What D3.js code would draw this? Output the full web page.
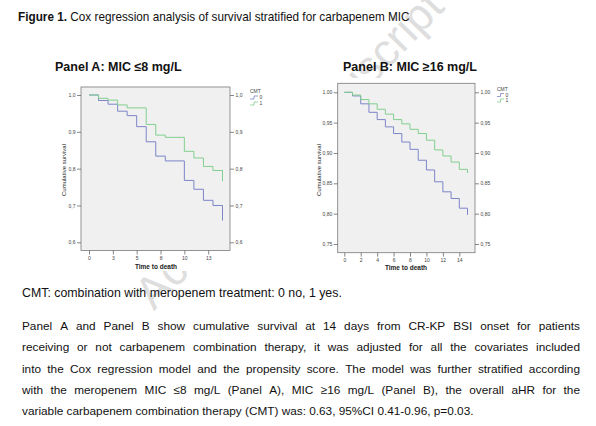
<!DOCTYPE html>
<html><head><meta charset="utf-8">
<script src="https://cdn.jsdelivr.net/npm/d3@7"></script>
<style>
body{margin:0;background:#fff}
svg{display:block}
text{font-family:"Liberation Sans",Arial,sans-serif}
</style>
</head><body>
<svg id="chart" width="596" height="426"></svg>
<script>
// ---------- DATA ----------
const seriesNames = ["0", "1"];            // CMT groups (0 = no, 1 = yes)
const seriesColors = ["#7d85c8", "#82cf8e"];

const panelA_days = [0,1,2,3,4,5,6,7,8,9,10,11,12,13,14];
const panelA_cmt0 = [1.0,0.985,0.975,0.956,0.944,0.914,0.873,0.834,0.821,0.821,0.768,0.744,0.714,0.700,0.659];
const panelA_cmt1 = [1.0,0.991,0.986,0.973,0.965,0.965,0.920,0.891,0.885,0.885,0.847,0.829,0.806,0.795,0.766];
const panelA_yTicks = [0.6,0.7,0.8,0.9,1.0];
const panelA_xTicks = [0,2.5,5,7.5,10,12.5];
const panelA_xTickLabels = ["0","3","5","8","10","13"];

const panelB_days = [0,1,2,3,4,5,6,7,8,9,10,11,12,13,14,15];
const panelB_cmt0 = [1.0,0.994,0.981,0.967,0.955,0.943,0.932,0.918,0.906,0.888,0.872,0.8525,0.836,0.825,0.809,0.798];
const panelB_cmt1 = [1.0,0.9955,0.988,0.981,0.972,0.964,0.955,0.948,0.939,0.932,0.921,0.905,0.895,0.885,0.873,0.867];
const panelB_yTicks = [0.75,0.80,0.85,0.90,0.95,1.00];
const panelB_xTicks = [0,2,4,6,8,10,12,14];
const panelB_xTickLabels = ["0","2","4","6","8","10","12","14"];

const titleBold = "Figure 1.";
const titleRest = " Cox regression analysis of survival stratified for carbapenem MIC";
const panelTitles = ["Panel A: MIC \u22648 mg/L", "Panel B: MIC \u226516 mg/L"];
const footnote = "CMT: combination with meropenem treatment: 0 no, 1 yes.";
const paragraph = [
  "Panel A and Panel B show cumulative survival at 14 days from CR-KP BSI onset for patients",
  "receiving or not carbapenem combination therapy, it was adjusted for all the covariates included",
  "into the Cox regression model and the propensity score. The model was further stratified according",
  "with the meropenem MIC \u22648 mg/L (Panel A), MIC \u226516 mg/L (Panel B), the overall aHR for the",
  "variable carbapenem combination therapy (CMT) was: 0.63, 95%CI 0.41-0.96, p=0.03."
];

// ---------- DRAW ----------
const svg = d3.select("#chart");
svg.append("rect").attr("width",596).attr("height",426).attr("fill","#fff");

// watermark
svg.append("text")
  .attr("transform","translate(300,160) rotate(-46)")
  .attr("text-anchor","middle")
  .attr("font-size",45)
  .attr("fill","#dedede")
  .text("Accepted Manuscript");

// image backgrounds (charts are opaque images over watermark)
svg.append("rect").attr("x",56).attr("y",78).attr("width",250).attr("height",193).attr("fill","#fff");
svg.append("rect").attr("x",306).attr("y",78).attr("width",284).attr("height",196).attr("fill","#fff");

// helper: text fitted to width
function fitted(parent, x, y, size, target){
  const g = parent.append("g");
  const tx = g.append("text").attr("x",0).attr("y",0).attr("font-size",size).attr("fill","#111");
  return {g, tx, fit(){
    const wdt = tx.node().getComputedTextLength();
    g.attr("transform",`translate(${x},${y}) scale(${target/wdt},1)`);
  }};
}

// title
const T = fitted(svg, 18, 21, 12, 392);
T.tx.append("tspan").attr("font-weight","bold").text(titleBold);
T.tx.append("tspan").text(titleRest);
T.fit();

// panel titles
svg.append("text").attr("x",55).attr("y",71).attr("font-size",12.5).attr("font-weight","bold").attr("fill","#111").text(panelTitles[0]);
svg.append("text").attr("x",343).attr("y",71).attr("font-size",12.5).attr("font-weight","bold").attr("fill","#111").text(panelTitles[1]);

function drawPanel(cfg){
  const g = svg.append("g");
  const x = d3.scaleLinear().domain(cfg.xDomain).range(cfg.xRange);
  const y = d3.scaleLinear().domain(cfg.yDomain).range(cfg.yRange);
  const f = cfg.frame;
  g.append("rect").attr("x",f.x0).attr("y",f.y0).attr("width",f.x1-f.x0).attr("height",f.y1-f.y0)
    .attr("fill","#f0f0f0").attr("stroke","#7a7a7a").attr("stroke-width",0.8);

  const fmt = v => d3.format(cfg.yFmt)(v).replace(".", ",");
  const styleAxis = a => {
    a.select(".domain").remove();
    a.selectAll("line").attr("stroke","#555").attr("stroke-width",0.7);
    a.selectAll("text").attr("font-size",5).attr("fill","#444").attr("font-family","Liberation Sans, Arial, sans-serif");
  };
  g.append("g").attr("transform",`translate(${f.x0},0)`)
    .call(d3.axisLeft(y).tickValues(cfg.yTicks).tickFormat(fmt).tickSize(4).tickPadding(1.5)).call(styleAxis);
  g.append("g").attr("transform",`translate(${f.x1},0)`)
    .call(d3.axisRight(y).tickValues(cfg.yTicks).tickFormat(fmt).tickSize(4).tickPadding(1.5)).call(styleAxis);
  g.append("g").attr("transform",`translate(0,${f.y1})`)
    .call(d3.axisBottom(x).tickValues(cfg.xTicks).tickFormat((d,i)=>cfg.xTickLabels[i]).tickSize(4).tickPadding(2)).call(styleAxis);

  const line = d3.line().x(d=>x(d[0])).y(d=>y(d[1])).curve(d3.curveStepAfter);
  cfg.series.forEach((s,i)=>{
    g.append("path").datum(cfg.days.map((d,j)=>[d,s[j]]))
      .attr("d",line).attr("fill","none").attr("stroke",seriesColors[i]).attr("stroke-width",1);
  });

  // axis titles
  g.append("text").attr("transform",`translate(${cfg.yTitle[0]},${cfg.yTitle[1]}) rotate(-90)`)
    .attr("text-anchor","middle").attr("font-size",6).attr("fill","#222").text("Cumulative survival");
  g.append("text").attr("x",cfg.xTitle[0]).attr("y",cfg.xTitle[1]).attr("text-anchor","middle")
    .attr("font-size",6.5).attr("font-weight","bold").attr("fill","#222").text("Time to death");

  // legend
  const L = cfg.legend;
  g.append("text").attr("x",L.x).attr("y",L.y).attr("font-size",5).attr("fill","#444").text("CMT");
  seriesNames.forEach((n,i)=>{
    const yy = L.y + L.dy*(i+1);
    g.append("path").attr("d",`M${L.x},${yy} H${L.x+L.w/2} V${yy-3} H${L.x+L.w}`)
      .attr("fill","none").attr("stroke",seriesColors[i]).attr("stroke-width",0.8);
    g.append("text").attr("x",L.x+L.w+1.5).attr("y",yy).attr("font-size",5).attr("fill","#444").text(n);
  });
}

drawPanel({
  days: panelA_days, series:[panelA_cmt0, panelA_cmt1],
  xDomain:[0,14], xRange:[89,222.5], yDomain:[0.6,1.0], yRange:[242.3,95],
  frame:{x0:81,x1:230,y0:87,y1:250.5},
  yTicks: panelA_yTicks, yFmt:".1f", xTicks: panelA_xTicks, xTickLabels: panelA_xTickLabels,
  yTitle:[66,170], xTitle:[156,269],
  legend:{x:250,y:93,dy:6,w:8}
});
drawPanel({
  days: panelB_days, series:[panelB_cmt0, panelB_cmt1],
  xDomain:[0,14], xRange:[344.3,459.3], yDomain:[0.75,1.0], yRange:[244,92.3],
  frame:{x0:337.7,x1:475,y0:83.3,y1:252.7},
  yTicks: panelB_yTicks, yFmt:".2f", xTicks: panelB_xTicks, xTickLabels: panelB_xTickLabels,
  yTitle:[321,170], xTitle:[406,270],
  legend:{x:497,y:91,dy:5.5,w:7}
});

// footnote
const F = fitted(svg, 22, 297, 12.2, 320);
F.tx.text(footnote); F.fit();

// justified paragraph
const pSize = 11.8, left = 22, right = 580, base0 = 330, lh = 21.3;
const meas = svg.append("text").attr("font-size",pSize).attr("x",-999).attr("y",-999);
function w(s){ meas.text(s); return meas.node().getComputedTextLength(); }
paragraph.forEach((ln,i)=>{
  const yy = base0 + i*lh;
  const txt = svg.append("text").attr("font-size",pSize).attr("fill","#111").attr("y",yy);
  if(i < paragraph.length-1){
    const words = ln.split(" ");
    const widths = words.map(w);
    const gap = (right-left-d3.sum(widths))/(words.length-1);
    let xx = left;
    words.forEach((wd,j)=>{ txt.append("tspan").attr("x",xx).attr("y",yy).text(wd); xx += widths[j]+gap; });
  } else {
    txt.attr("x",left).text(ln);
  }
});
meas.remove();
</script>
</body></html>
